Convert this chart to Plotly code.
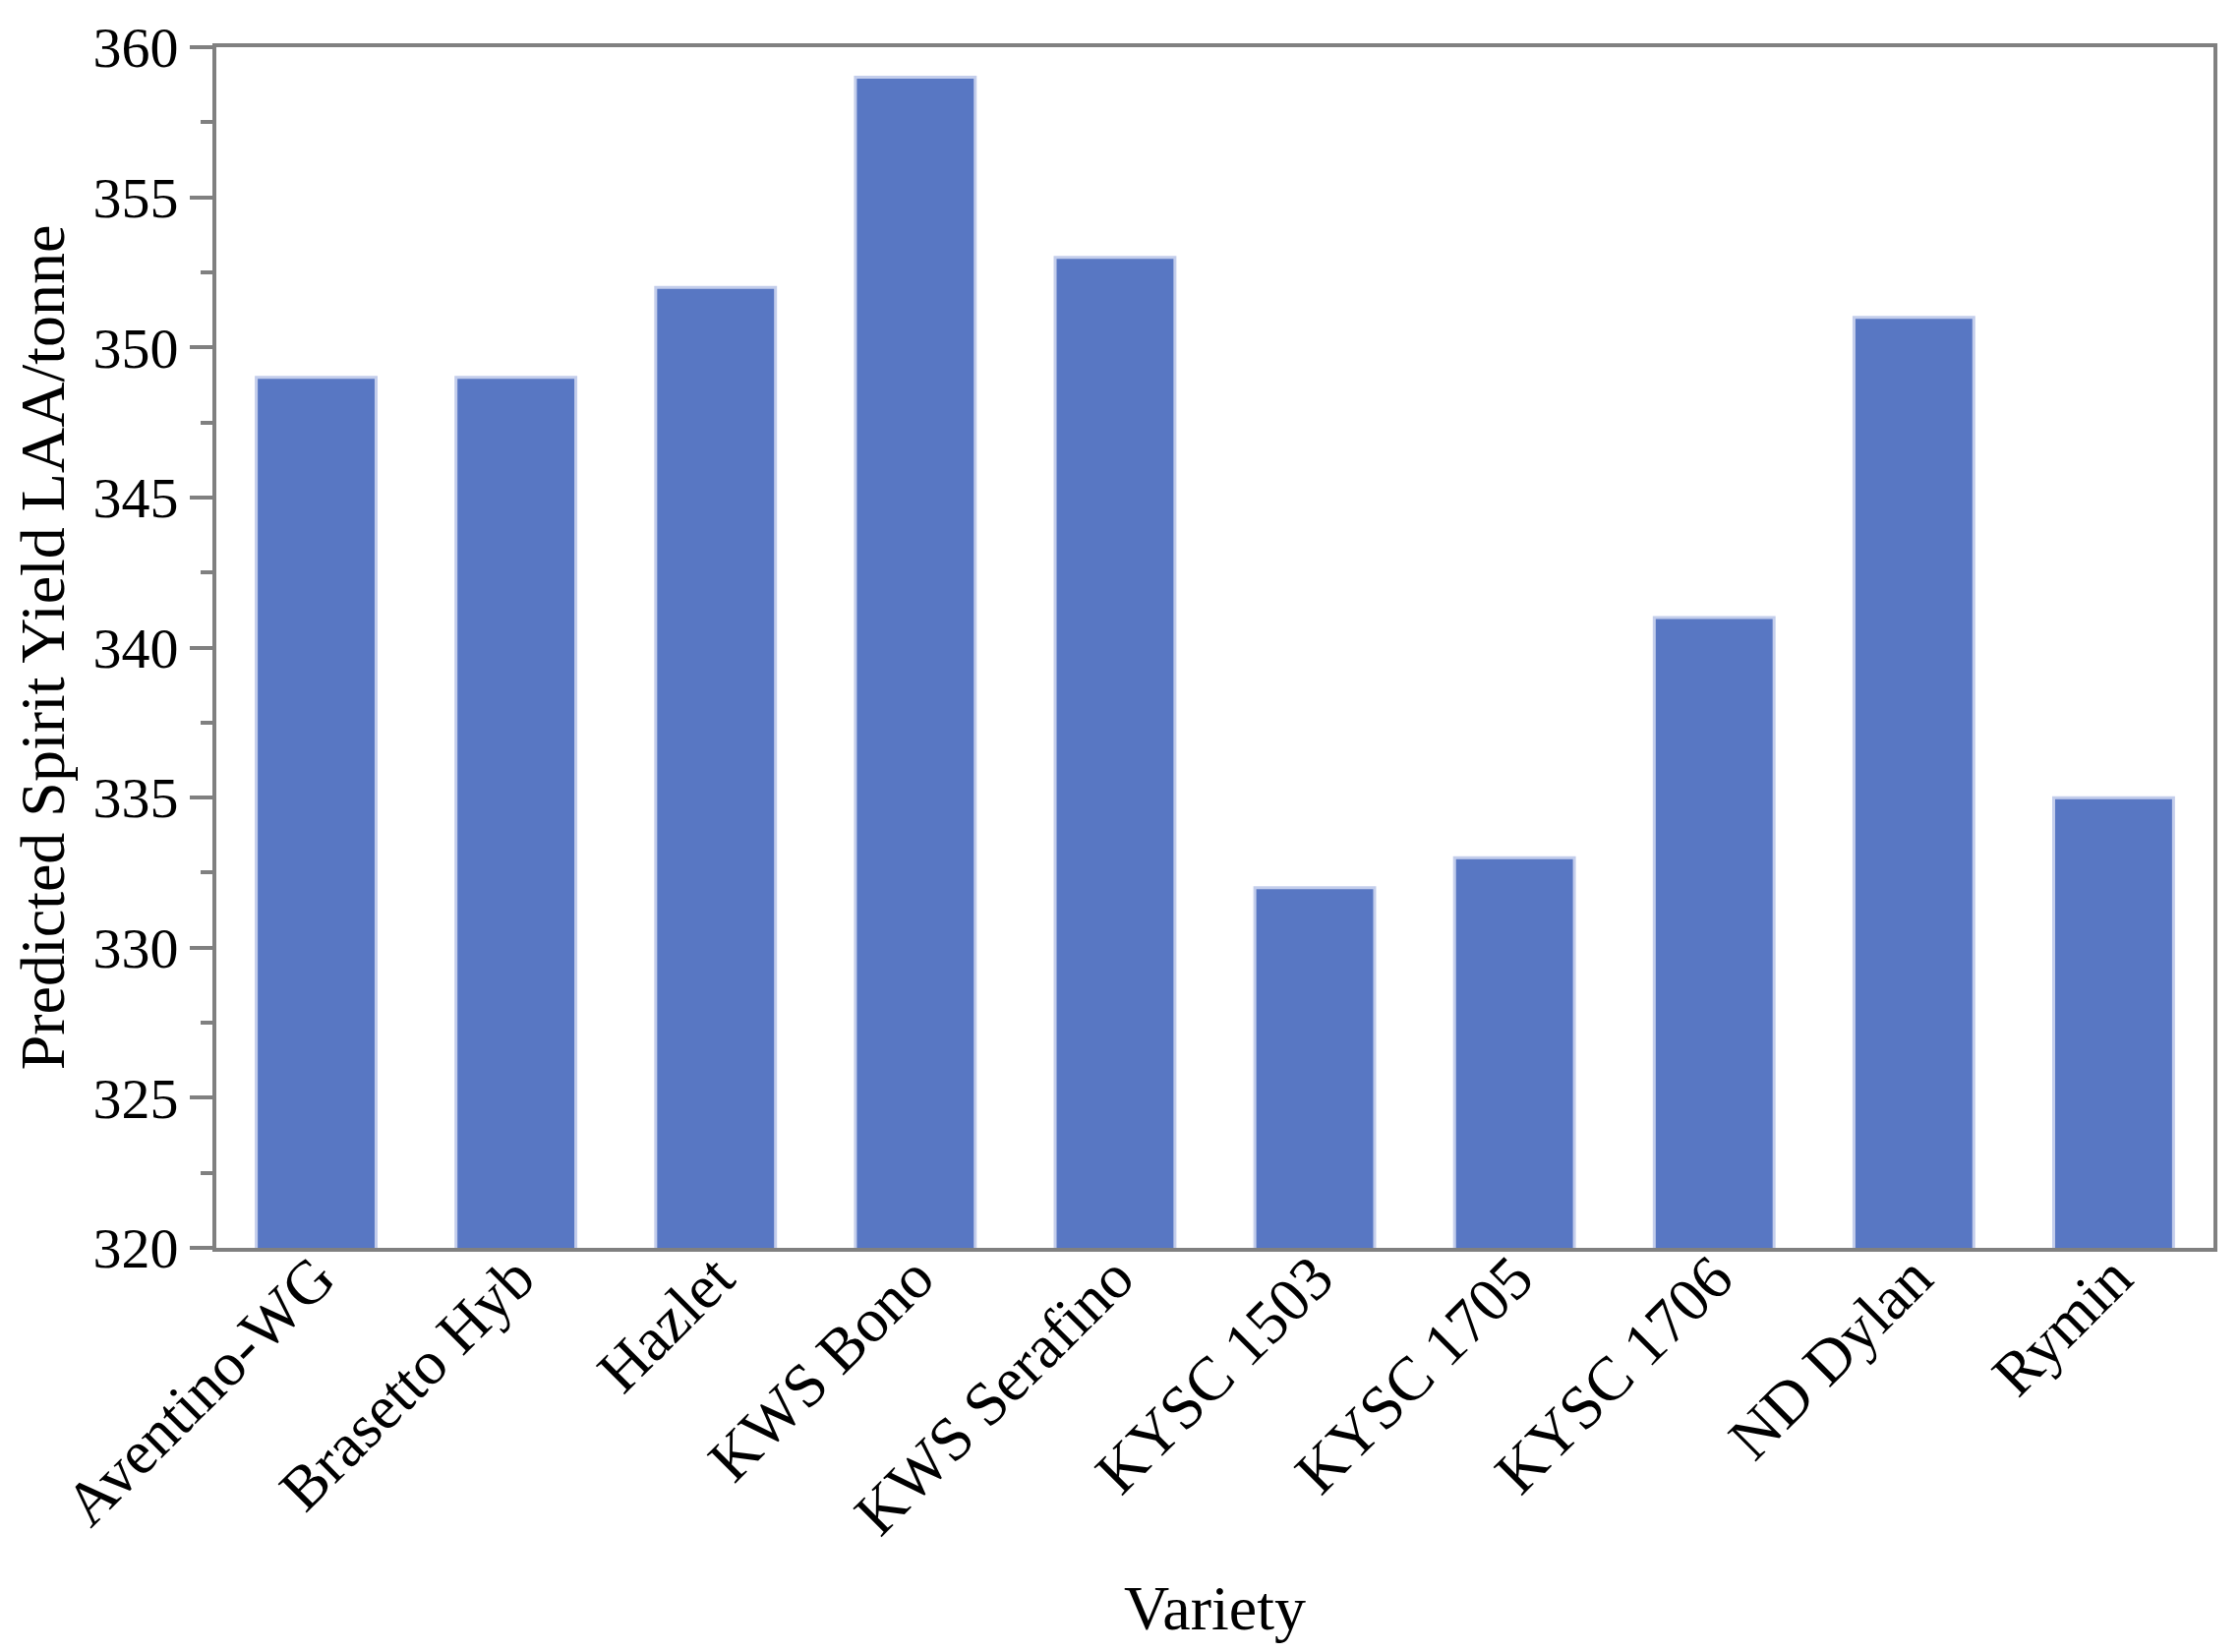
import plotly.graph_objects as go

varieties = ["Aventino-WG", "Brasetto Hyb", "Hazlet", "KWS Bono", "KWS Serafino",
             "KYSC 1503", "KYSC 1705", "KYSC 1706", "ND Dylan", "Rymin"]
spirit_yield = [349, 349, 352, 359, 353, 332, 333, 341, 351, 335]
y_ticks = [320, 325, 330, 335, 340, 345, 350, 355, 360]

FONT = "Liberation Serif"
GRAY = "#808080"

fig = go.Figure(go.Bar(
    x=varieties, y=spirit_yield,
    marker=dict(color="#5877C3", line=dict(color="#C3CDEB", width=3)),
    width=0.6,
))

fig.update_layout(
    width=2262, height=1664,
    margin=dict(l=212, r=19, t=40, b=403, autoexpand=False),
    paper_bgcolor="white", plot_bgcolor="white",
    showlegend=False,
    font=dict(family=FONT, color="black"),
    bargap=0.4,
)

fig.update_xaxes(
    showline=True, linecolor=GRAY, linewidth=4, mirror=True,
    ticks="", tickangle=-45, automargin=False,
    ticklabelstandoff=-36,
    tickfont=dict(family=FONT, size=63, color="black"),
    title=dict(text="Variety", font=dict(family=FONT, size=64, color="black"), standoff=40),
    showgrid=False, zeroline=False,
)

fig.update_yaxes(
    range=[320, 360], tickvals=y_ticks, automargin=False,
    showline=True, linecolor=GRAY, linewidth=4, mirror=True,
    ticks="outside", ticklen=23, tickwidth=4, tickcolor=GRAY,
    minor=dict(dtick=2.5, tick0=320, ticks="outside", ticklen=12, tickwidth=4, tickcolor=GRAY),
    tickfont=dict(family=FONT, size=58, color="black"),
    title=dict(text="Predicted Spirit Yield LAA/tonne", font=dict(family=FONT, size=64, color="black"), standoff=22),
    showgrid=False, zeroline=False,
)

fig.write_html("out.html")
